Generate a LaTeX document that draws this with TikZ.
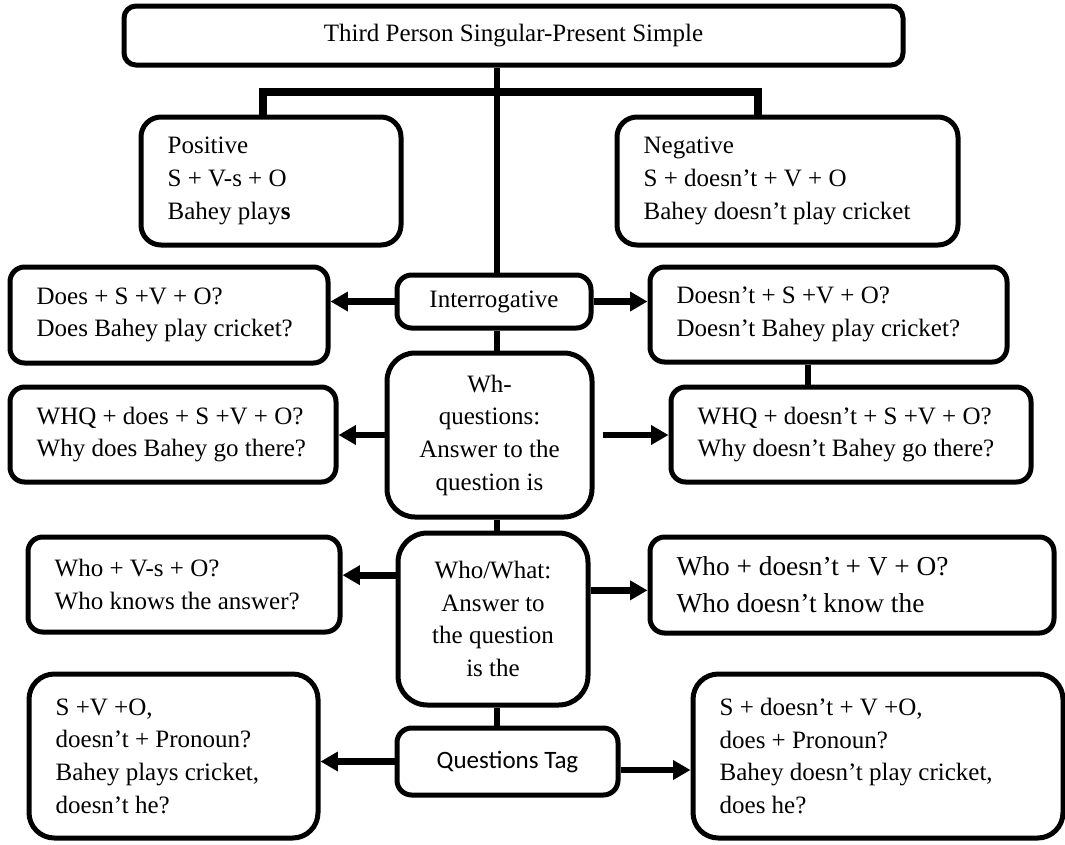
\documentclass[tikz,border=0pt]{standalone}
\usepackage{fontspec}
\setmainfont{Liberation Serif}
\newfontfamily\tagfont{Carlito}
\usetikzlibrary{arrows.meta}

\begin{document}
\begin{tikzpicture}[x=0.75pt,y=-0.75pt,
  box/.style={draw, line width=3.75pt, rounded corners=11pt, inner sep=0pt,
    font=\fontsize{18.75}{24.5}\selectfont},
  leftbox/.style={box, align=flush left, inner xsep=20pt},
  midbox/.style={box, align=center},
  link/.style={line width=5pt},
  arr/.style={link, -{Triangle[length=13pt,width=14pt]}}]
\useasboundingbox (0,0) rectangle (1065,844);

\node[midbox, minimum width=584.25pt, minimum height=44.25pt, rounded corners=9pt] (title) at (513.5,35.5) {Third Person Singular-Present Simple};
\node[leftbox, text width=155pt, minimum height=96pt, rounded corners=15pt] (pos) at (271,181) {Positive\\S + V-s + O\\Bahey play\textbf{s}};
\node[leftbox, text width=215.75pt, minimum height=96pt, rounded corners=15pt] (neg) at (787.5,181) {Negative\\S + doesn't + V + O\\Bahey doesn't play cricket};
\node[midbox, minimum width=145.5pt, minimum height=39.75pt] (interr) at (494,301.5) {Interrogative};
\node[leftbox, text width=198.5pt, minimum height=72pt] (does) at (169,315) {Does + S +V + O?\\Does Bahey play cricket?};
\node[leftbox, text width=227.75pt, minimum height=71.25pt] (doesnt) at (828.5,314.5) {Doesn't + S +V + O?\\Doesn't Bahey play cricket?};
\node[midbox, minimum width=153.75pt, minimum height=123pt, rounded corners=21pt] (wh) at (489.5,435) {Wh-\\questions:\\Answer to the\\question is};
\node[leftbox, text width=204.5pt, minimum height=71.25pt] (whq) at (173,434.5) {WHQ + does + S +V + O?\\Why does Bahey go there?};
\node[leftbox, text width=230pt, minimum height=71.25pt] (whqn) at (851,434.5) {WHQ + doesn't + S +V + O?\\Why doesn't Bahey go there?};
\node[midbox, minimum width=142.5pt, minimum height=129pt, rounded corners=22pt] (who) at (493,619) {Who/What:\\Answer to\\the question\\is the};
\node[leftbox, text width=194pt, minimum height=71.25pt] (whov) at (184,584.5) {Who + V-s + O?\\Who knows the answer?};
\node[leftbox, text width=263pt, minimum height=72pt, font=\fontsize{20.5}{27.75}\selectfont] (whon) at (852,585) {Who + doesn't + V + O?\\Who doesn't know the};
\node[midbox, minimum width=165.75pt, minimum height=50.25pt, font=\tagfont\fontsize{18.75}{24.5}\selectfont] (tag) at (507.5,761.5) {Questions Tag};
\node[leftbox, text width=176.75pt, minimum height=123pt, rounded corners=19pt] (tagl) at (173.5,756) {S +V +O,\\doesn't + Pronoun?\\Bahey plays cricket,\\doesn't he?};
\node[leftbox, text width=237.5pt, minimum height=123pt, rounded corners=19pt] (tagr) at (878,756) {S + doesn't + V +O,\\does + Pronoun?\\Bahey doesn't play cricket,\\does he?};

\coordinate (spine) at (497,0);
\coordinate (barl) at (263,92);
\coordinate (barr) at (758,92);
\coordinate (colr) at (808,0);
\coordinate (whoarrl) at ([yshift=7pt]whov.east);
\coordinate (whoarrr) at ([yshift=-4pt]whon.west);
\coordinate (tagarr) at ([yshift=-10.5pt]tagr.west);

\draw[link] (spine |- title.south) -- (spine |- interr.north);
\draw[link, line width=5.5pt] (barl |- pos.north) -- (barl) -- (barr) -- (barr |- neg.north);
\draw[arr] (interr.west) -- (interr.west -| does.east);
\draw[arr] (interr.east) -- (interr.east -| doesnt.west);
\draw[link] (colr |- doesnt.south) -- (colr |- whqn.north);
\draw[link] (spine |- interr.south) -- (spine |- wh.north);
\draw[arr] (wh.west) -- (wh.west -| whq.east);
\draw[arr] ([xshift=6pt]wh.east) -- (wh.east -| whqn.west);
\draw[link] (spine |- wh.south) -- (spine |- who.north);
\draw[arr] (whoarrl -| who.west) -- (whoarrl);
\draw[arr] (whoarrr -| who.east) -- (whoarrr);
\draw[link] (spine |- who.south) -- (spine |- tag.north);
\draw[arr] (tag.west) -- (tag.west -| tagl.east);
\draw[arr] (tagarr -| tag.east) -- (tagarr);
\end{tikzpicture}
\end{document}
